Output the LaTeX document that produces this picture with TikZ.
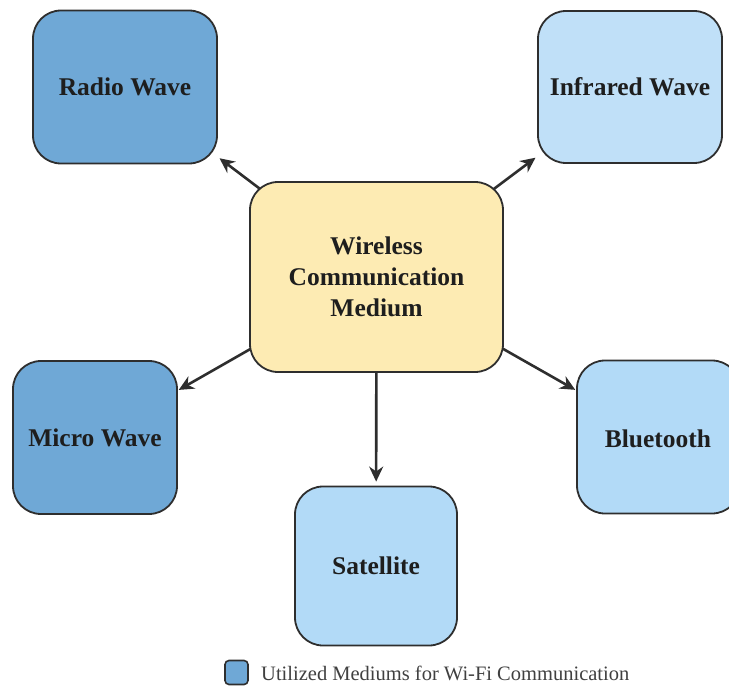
\documentclass[tikz,border=0pt]{standalone}
\usepackage{fontspec}
\setmainfont{Liberation Serif}
\usetikzlibrary{arrows.meta,backgrounds}
\definecolor{darkblue}{HTML}{6FA8D6}
\definecolor{paleblue}{HTML}{C0E0F8}
\definecolor{lightblue}{HTML}{B2DAF7}
\definecolor{paleyellow}{HTML}{FDEBB3}
\definecolor{edgegray}{HTML}{2E2E2E}
\definecolor{txt}{HTML}{1E1E1E}
\tikzset{
  box/.style={draw=edgegray, line width=1.8pt, rounded corners=28pt, inner sep=0pt,
    align=center, text=txt, font=\fontsize{25.5}{31}\selectfont\bfseries},
  arr/.style={draw=edgegray, line width=2.6pt, -{Stealth[length=15pt,width=14pt]}},
}
\begin{document}
\begin{tikzpicture}[x=1pt,y=-1pt]
\useasboundingbox (0,0) rectangle (729,688);
\clip (0,0) rectangle (729,688);
\node[box, fill=paleyellow, minimum width=253pt, minimum height=190pt] (c) at (376.5,277) {Wireless\\Communication\\Medium};
\node[box, fill=darkblue, minimum width=184pt, minimum height=153pt] (radio) at (125,87) {Radio Wave};
\node[box, fill=paleblue, minimum width=184pt, minimum height=152pt] (infra) at (630,87) {Infrared Wave};
\node[box, fill=darkblue, minimum width=164pt, minimum height=153pt] (micro) at (95,437.5) {Micro Wave};
\node[box, fill=lightblue, minimum width=163pt, minimum height=153pt] (blue) at (658.5,437) {};
\node[text=txt, font=\fontsize{25.5}{31}\selectfont\bfseries] (bluet) at (658,438.5) {Bluetooth};
\node[box, fill=lightblue, minimum width=162pt, minimum height=159pt] (sat) at (376,566) {Satellite};
\begin{scope}[on background layer]
\draw[arr, shorten >=2pt] (c.center) -- (radio);
\draw[arr, shorten >=2pt] (c.center) -- (infra);
\draw[arr, shorten >=1pt] (c.center) -- (micro);
\draw[arr, shorten >=1pt] (c.center) -- (blue);
\draw[arr, shorten >=4pt] (c.center) -- (sat);
\end{scope}
\node[draw=edgegray, fill=darkblue, line width=1.6pt, rounded corners=4pt, minimum width=23pt, minimum height=24pt, inner sep=0pt] (leg) at (236.5,672.5) {};
\node[anchor=west, inner sep=0pt, text=black!75, font=\fontsize{20.5}{24}\selectfont] (legt) at (261,673) {Utilized Mediums for Wi-Fi Communication};
\end{tikzpicture}
\end{document}
